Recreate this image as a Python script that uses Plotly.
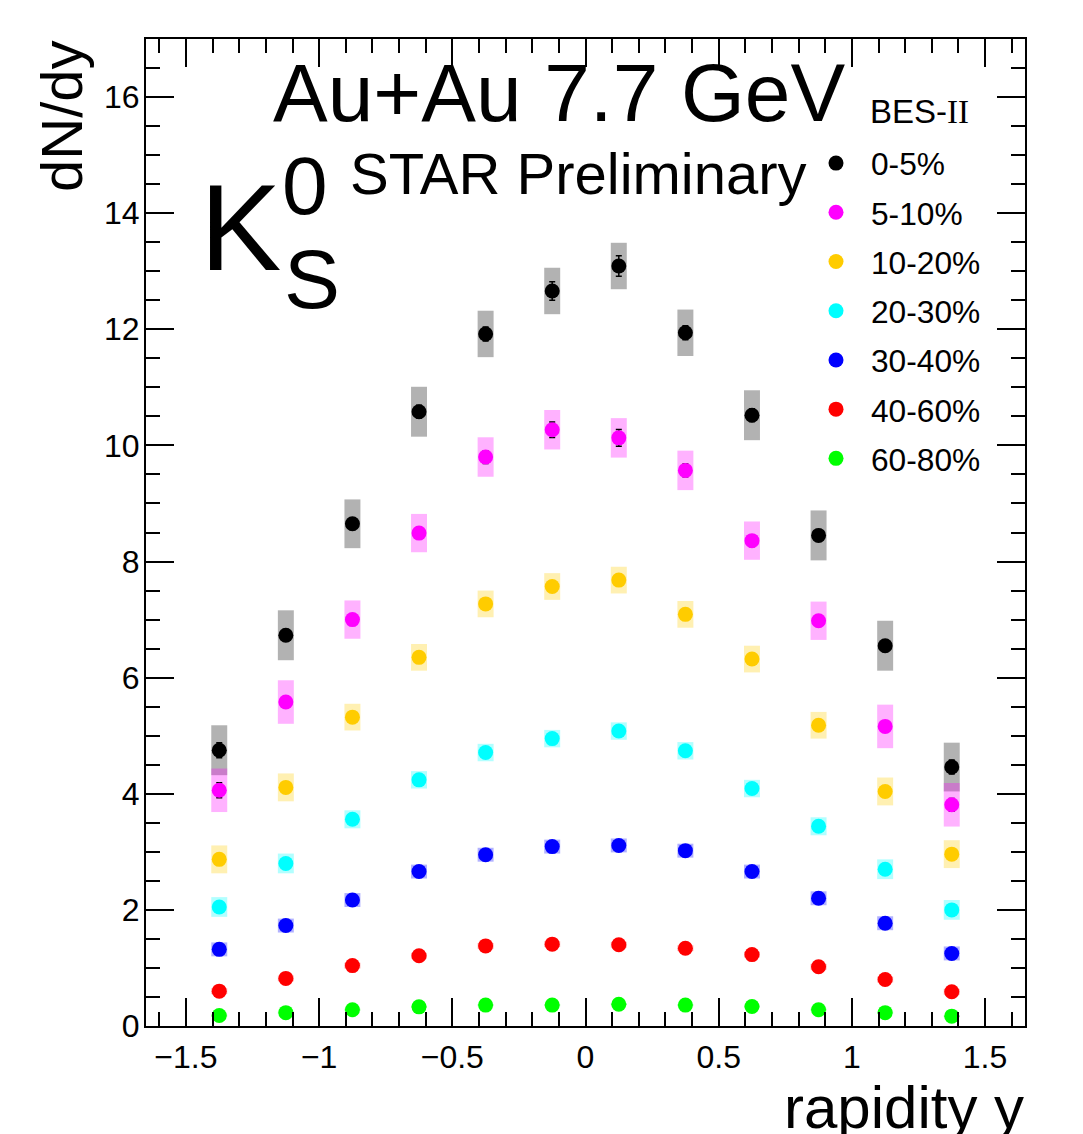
import plotly.graph_objects as go

# ---------------- data ----------------
rapidity = [-1.375, -1.125, -0.875, -0.625, -0.375, -0.125,
            0.125, 0.375, 0.625, 0.875, 1.125, 1.375]

centralities = ["0-5%", "5-10%", "10-20%", "20-30%", "30-40%", "40-60%", "60-80%"]
colors = ["#000000", "#FF00FF", "#FFCC00", "#00FFFF", "#0000FF", "#FF0000", "#00FF00"]
box_colors = ["rgba(0,0,0,0.3)", "rgba(255,0,255,0.3)", "rgba(255,204,0,0.3)",
              "rgba(0,255,255,0.3)", "rgba(0,0,255,0.3)", "rgba(255,0,0,0.3)",
              "rgba(0,255,0,0.3)"]

dndy_0_5 = [4.75, 6.73, 8.65, 10.58, 11.92, 12.66, 13.09, 11.94, 10.52, 8.45, 6.55, 4.46]
dndy_5_10 = [4.06, 5.58, 7.00, 8.49, 9.80, 10.27, 10.13, 9.57, 8.36, 6.98, 5.16, 3.81]
dndy_10_20 = [2.87, 4.11, 5.32, 6.35, 7.27, 7.57, 7.68, 7.09, 6.32, 5.18, 4.04, 2.96]
dndy_20_30 = [2.05, 2.80, 3.56, 4.24, 4.71, 4.95, 5.08, 4.74, 4.09, 3.44, 2.70, 2.00]
dndy_30_40 = [1.32, 1.73, 2.17, 2.66, 2.95, 3.09, 3.11, 3.02, 2.66, 2.20, 1.77, 1.25]
dndy_40_60 = [0.60, 0.82, 1.04, 1.21, 1.38, 1.41, 1.40, 1.34, 1.23, 1.02, 0.80, 0.59]
dndy_60_80 = [0.18, 0.23, 0.28, 0.33, 0.36, 0.36, 0.375, 0.36, 0.335, 0.28, 0.23, 0.17]

sys_0_5 = [0.43, 0.43, 0.42, 0.43, 0.40, 0.40, 0.40, 0.40, 0.43, 0.43, 0.43, 0.42]
sys_5_10 = [0.375, 0.375, 0.33, 0.33, 0.34, 0.34, 0.34, 0.34, 0.33, 0.33, 0.375, 0.375]
sys_10_20 = [0.24, 0.24, 0.23, 0.23, 0.23, 0.23, 0.23, 0.23, 0.23, 0.23, 0.24, 0.24]
sys_20_30 = [0.17, 0.17, 0.155, 0.15, 0.15, 0.15, 0.15, 0.15, 0.15, 0.155, 0.17, 0.17]
sys_30_40 = [0.12, 0.12, 0.12, 0.12, 0.12, 0.12, 0.12, 0.12, 0.12, 0.12, 0.12, 0.12]
sys_40_60 = [0.05, 0.05, 0.05, 0.05, 0.05, 0.05, 0.05, 0.05, 0.05, 0.05, 0.05, 0.05]
sys_60_80 = [0.02, 0.02, 0.02, 0.02, 0.02, 0.02, 0.02, 0.02, 0.02, 0.02, 0.02, 0.02]

stat_0_5 = [0.13, 0.10, 0.10, 0.11, 0.12, 0.16, 0.175, 0.12, 0.11, 0.10, 0.10, 0.12]
stat_5_10 = [0.13, 0.09, 0.09, 0.10, 0.11, 0.135, 0.143, 0.11, 0.10, 0.09, 0.09, 0.11]

x_ticks = [-1.5, -1, -0.5, 0, 0.5, 1, 1.5]
y_ticks = [0, 2, 4, 6, 8, 10, 12, 14, 16]

values = [dndy_0_5, dndy_5_10, dndy_10_20, dndy_20_30, dndy_30_40, dndy_40_60, dndy_60_80]
systs = [sys_0_5, sys_5_10, sys_10_20, sys_20_30, sys_30_40, sys_40_60, sys_60_80]
stats = [stat_0_5, stat_5_10, None, None, None, None, None]

# ---------------- layout geometry ----------------
W, H = 1083, 1134
L, R, T, B = 146, 1025, 39, 1026
FONT = "Liberation Sans, Arial, Helvetica, sans-serif"
SERIF = "Liberation Serif, Times New Roman, serif"


def pxx(p):
    return (p - L) / (R - L)


def pxy(p):
    return (B - p) / (B - T)


fig = go.Figure()

# systematic boxes
for name, v, s, bc in zip(centralities, values, systs, box_colors):
    fig.add_trace(go.Bar(
        x=rapidity,
        y=[2 * e for e in s],
        base=[a - e for a, e in zip(v, s)],
        width=0.06,
        marker=dict(color=bc, line=dict(width=0)),
        showlegend=False,
        hoverinfo="skip",
    ))

# points
for name, v, st, c in zip(centralities, values, stats, colors):
    kw = {}
    if st is not None:
        kw["error_y"] = dict(type="data", array=st, visible=True,
                             color="#000000", thickness=1.5, width=3)
    fig.add_trace(go.Scatter(
        x=rapidity, y=v, mode="markers", name=name,
        legendgroup=name,
        marker=dict(color=c, size=15, line=dict(width=0)),
        **kw,
    ))

axis_common = dict(
    showline=True, linecolor="black", linewidth=2, mirror="ticks",
    ticks="inside", tickcolor="black", tickwidth=1.5, ticklen=28,
    showgrid=False, zeroline=False,
    tickfont=dict(family=FONT, size=32, color="black"),
)

fig.update_xaxes(range=[-1.65, 1.65], tickmode="array", tickvals=x_ticks,
                 minor=dict(dtick=0.1, tick0=0, ticks="inside", ticklen=14,
                            tickwidth=1.5, tickcolor="black", showgrid=False),
                 ticklabelstandoff=2,
                 **axis_common)
fig.update_yaxes(range=[0, 17], tickmode="array", tickvals=y_ticks,
                 minor=dict(dtick=0.5, tick0=0, ticks="inside", ticklen=14,
                            tickwidth=1.5, tickcolor="black", showgrid=False),
                 ticklabelstandoff=-2,
                 **axis_common)

annotations = [
    dict(text="Au+Au 7.7 GeV", x=pxx(272), y=pxy(93), xanchor="left", yanchor="middle",
         font=dict(family=FONT, size=82, color="black")),
    dict(text="STAR Preliminary", x=pxx(349), y=pxy(173), xanchor="left", yanchor="middle",
         font=dict(family=FONT, size=58, color="black")),
    dict(text="K", x=pxx(199), y=pxy(228), xanchor="left", yanchor="middle",
         font=dict(family=FONT, size=122, color="black")),
    dict(text="0", x=pxx(281), y=pxy(185), xanchor="left", yanchor="middle",
         font=dict(family=FONT, size=82, color="black")),
    dict(text="S", x=pxx(283), y=pxy(279), xanchor="left", yanchor="middle",
         font=dict(family=FONT, size=84, color="black")),
    dict(text="dN/dy", x=pxx(61.5), y=pxy(116.5), xanchor="center", yanchor="middle",
         textangle=-90, font=dict(family=FONT, size=58, color="black")),
    dict(text="rapidity y", x=pxx(1025), y=pxy(1107), xanchor="right", yanchor="middle",
         font=dict(family=FONT, size=60, color="black")),
    dict(text='BES-<span style="font-family:%s">II</span>' % SERIF,
         x=pxx(869), y=pxy(111.5), xanchor="left", yanchor="middle",
         font=dict(family=FONT, size=33, color="black")),
]
for a in annotations:
    a.update(xref="paper", yref="paper", showarrow=False, borderpad=0)

fig.update_layout(
    width=W, height=H,
    margin=dict(l=L, r=W - R, t=T, b=H - B, pad=0),
    paper_bgcolor="white", plot_bgcolor="white",
    barmode="overlay",
    annotations=annotations,
    legend=dict(
        x=pxx(801), y=pxy(136), xanchor="left", yanchor="top",
        bgcolor="rgba(0,0,0,0)", borderwidth=0,
        font=dict(family=FONT, size=31.7, color="black"),
        tracegroupgap=5, itemwidth=60, traceorder="grouped",
    ),
)

fig.write_html("out.html")
